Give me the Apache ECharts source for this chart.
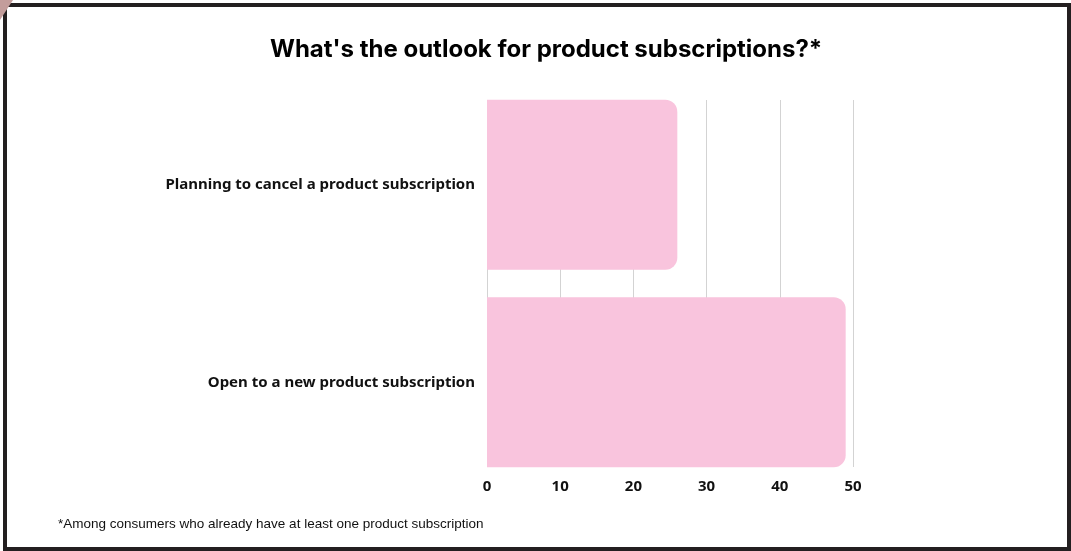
<!DOCTYPE html>
<html>
<head>
<meta charset="utf-8">
<script src="https://cdn.jsdelivr.net/npm/echarts@6/dist/echarts.min.js"></script>
<style>
  html, body { margin: 0; padding: 0; background: #fff; }
  #main { width: 1071px; height: 551px; }
</style>
</head>
<body>
<div id="main"></div>
<script>
  // data
  var categories = ['Planning to cancel a product subscription', 'Open to a new product subscription'];
  var values = [26, 49];
  var xTicks = [0, 10, 20, 30, 40, 50];

  var chart = echarts.init(document.getElementById('main'));

  var option = {
    animation: false,
    title: {
      text: "What's the outlook for product subscriptions?*",
      left: 265,
      top: 33,
      textStyle: {
        fontFamily: 'Inter',
        fontSize: 24,
        fontWeight: 'bold',
        color: '#000'
      }
    },
    graphic: [
      {
        type: 'rect',
        shape: { x: 5, y: 5, width: 1064, height: 544 },
        style: { fill: 'none', stroke: '#231f20', lineWidth: 4 },
        z: 10
      },
      {
        type: 'polygon',
        shape: { points: [[0, 0], [13, 0], [0, 20]] },
        style: { fill: '#c39d9b' },
        z: 11
      },
      {
        type: 'text',
        left: 58,
        top: 517,
        style: {
          text: '*Among consumers who already have at least one product subscription',
          font: '13.5px "Liberation Sans", Arial, sans-serif',
          fill: '#111'
        }
      }
    ],
    grid: [
      // bars
      { left: 487, right: 218, top: 86, height: 395 },
      // gridlines + ticks
      { left: 487, right: 218, top: 100, height: 367 }
    ],
    xAxis: [
      {
        gridIndex: 0,
        type: 'value',
        min: 0, max: 50, interval: 10,
        show: false
      },
      {
        gridIndex: 1,
        type: 'value',
        min: xTicks[0], max: xTicks[xTicks.length - 1], interval: 10,
        axisLine: { show: false },
        axisTick: { show: false },
        axisLabel: {
          margin: 12,
          fontFamily: 'Noto Sans',
          fontSize: 15,
          fontWeight: 'bold',
          color: '#111'
        },
        splitLine: { show: true, lineStyle: { color: '#d3d3d3', width: 1 } }
      }
    ],
    yAxis: [
      {
        gridIndex: 0,
        type: 'category',
        data: categories,
        inverse: true,
        axisLine: { show: false },
        axisTick: { show: false },
        axisLabel: {
          margin: 12,
          fontFamily: 'Noto Sans',
          fontSize: 15,
          fontWeight: 'bold',
          color: '#111'
        }
      },
      {
        gridIndex: 1,
        type: 'category',
        data: categories,
        show: false
      }
    ],
    series: [
      {
        type: 'bar',
        xAxisIndex: 0,
        yAxisIndex: 0,
        data: values,
        barWidth: 170,
        itemStyle: { color: '#f9c4dd', borderRadius: [0, 12, 12, 0] },
        z: 3
      }
    ]
  };

  chart.setOption(option);
</script>
</body>
</html>
